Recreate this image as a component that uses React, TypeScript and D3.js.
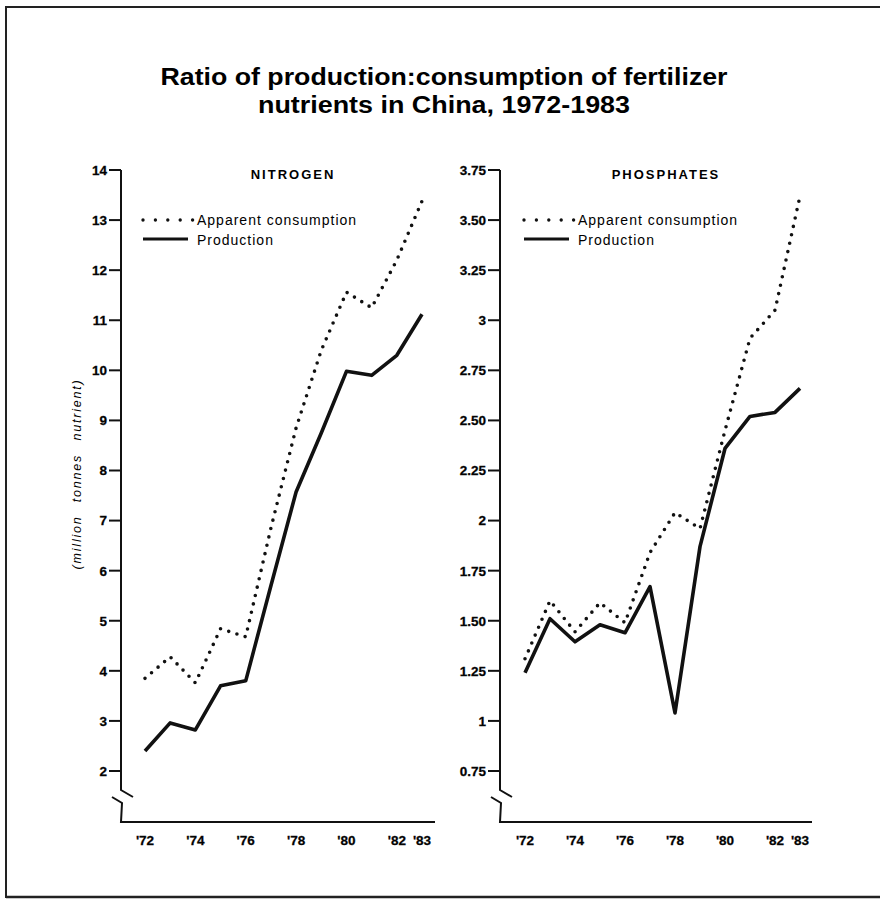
import React from "react";
import * as d3 from "d3";

const years = [1972, 1973, 1974, 1975, 1976, 1977, 1978, 1979, 1980, 1981, 1982, 1983];
const nitrogenConsumption = [3.85, 4.28, 3.76, 4.84, 4.68, 6.85, 8.85, 10.4, 11.56, 11.25, 12.2, 13.38];
const nitrogenProduction = [2.4, 2.96, 2.82, 3.7, 3.8, 5.7, 7.57, 8.75, 9.98, 9.9, 10.3, 11.12];
const phosphateConsumption = [1.31, 1.6, 1.445, 1.59, 1.49, 1.84, 2.04, 1.96, 2.45, 2.91, 3.05, 3.62];
const phosphateProduction = [1.24, 1.51, 1.395, 1.48, 1.44, 1.67, 1.04, 1.87, 2.36, 2.52, 2.54, 2.66];

const xTickYears = [1972, 1974, 1976, 1978, 1980, 1982, 1983];
const xTickLabels = ["'72", "'74", "'76", "'78", "'80", "'82", "'83"];
const nitrogenTicks = [14, 13, 12, 11, 10, 9, 8, 7, 6, 5, 4, 3, 2];
const nitrogenTickLabels = ["14", "13", "12", "11", "10", "9", "8", "7", "6", "5", "4", "3", "2"];
const phosphateTicks = [3.75, 3.5, 3.25, 3, 2.75, 2.5, 2.25, 2, 1.75, 1.5, 1.25, 1, 0.75];
const phosphateTickLabels = ["3.75", "3.50", "3.25", "3", "2.75", "2.50", "2.25", "2", "1.75", "1.50", "1.25", "1", "0.75"];

const FONT = "'Liberation Sans', Arial, Helvetica, sans-serif";

type PanelProps = {
  title: string;
  axisX: number;
  xStart: number;
  xEnd: number;
  axisRight: number;
  yDomain: [number, number];
  ticks: number[];
  tickLabels: string[];
  consumption: number[];
  production: number[];
  titleX: number;
  legendX: number;
};

function Panel(p: PanelProps) {
  const top = 170;
  const bottom = 771;
  const baseY = 822;
  const x = d3.scaleLinear().domain([1972, 1983]).range([p.xStart, p.xEnd]);
  const y = d3.scaleLinear().domain(p.yDomain).range([bottom, top]);
  const line = d3
    .line<number>()
    .x((_, i) => x(years[i]))
    .y((d) => y(d));
  const ax = p.axisX;
  const breakPath = `M${ax},${top} L${ax},${bottom + 19} L${ax + 12},${bottom + 26} M${ax - 9},${bottom + 26} L${ax + 1},${bottom + 32} L${ax},${baseY} L${p.axisRight},${baseY}`;
  return (
    <g>
      <text x={p.titleX} y={179} textAnchor="middle" fontFamily={FONT} fontWeight="bold" fontSize={13} letterSpacing={2}>
        {p.title}
      </text>
      <path d={breakPath} fill="none" stroke="#111" strokeWidth={2} />
      {p.ticks.map((t, i) => (
        <g key={t}>
          <line x1={ax - 12} x2={ax} y1={y(t)} y2={y(t)} stroke="#111" strokeWidth={2} />
          <text x={ax - 14} y={y(t)} dy="0.36em" textAnchor="end" fontFamily={FONT} fontWeight="bold" fontSize={13.5} stroke="#111" strokeWidth={0.3}>
            {p.tickLabels[i]}
          </text>
        </g>
      ))}
      {xTickYears.map((yr, i) => (
        <text key={yr} x={x(yr)} y={845} textAnchor="middle" fontFamily={FONT} fontWeight="bold" fontSize={13.5} stroke="#111" strokeWidth={0.3}>
          {xTickLabels[i]}
        </text>
      ))}
      <path d={line(p.consumption) || ""} fill="none" stroke="#111" strokeWidth={3.6} strokeLinecap="round" strokeDasharray="0 8.6" />
      <path d={line(p.production) || ""} fill="none" stroke="#111" strokeWidth={3.6} strokeLinejoin="round" />
      <line x1={p.legendX} x2={p.legendX + 50} y1={220} y2={220} stroke="#111" strokeWidth={3.4} strokeLinecap="round" strokeDasharray="0 12.4" />
      <text x={p.legendX + 54} y={220} dy="0.35em" fontFamily={FONT} fontSize={14} letterSpacing={1}>
        Apparent consumption
      </text>
      <line x1={p.legendX} x2={p.legendX + 45} y1={239} y2={239} stroke="#111" strokeWidth={3} />
      <text x={p.legendX + 54} y={240} dy="0.35em" fontFamily={FONT} fontSize={14} letterSpacing={1}>
        Production
      </text>
    </g>
  );
}

export default function App() {
  return (
    <div style={{ position: "absolute", left: 0, top: 0 }}>
      <svg width={882} height={901} style={{ display: "block", background: "#fff" }}>
        <rect x={0} y={0} width={882} height={901} fill="#fff" />
        <path d="M6,898 L6,7 L880,7" fill="none" stroke="#222" strokeWidth={2} />
        <line x1={6} x2={880} y1={897} y2={897} stroke="#222" strokeWidth={2.5} />
        <text x={444} y={85} textAnchor="middle" fontFamily={FONT} fontWeight="bold" fontSize={23} textLength={567} lengthAdjust="spacingAndGlyphs">
          Ratio of production:consumption of fertilizer
        </text>
        <text x={444} y={113} textAnchor="middle" fontFamily={FONT} fontWeight="bold" fontSize={23} textLength={372} lengthAdjust="spacingAndGlyphs">
          nutrients in China, 1972-1983
        </text>
        <text
          transform="translate(81,474) rotate(-90)"
          textAnchor="middle"
          fontFamily={FONT}
          fontStyle="italic"
          fontSize={12.5}
          letterSpacing={1.8}
          wordSpacing={8}
        >
          (million tonnes nutrient)
        </text>
        <Panel
          title="NITROGEN"
          axisX={121}
          xStart={145}
          xEnd={422}
          axisRight={435}
          yDomain={[2, 14]}
          ticks={nitrogenTicks}
          tickLabels={nitrogenTickLabels}
          consumption={nitrogenConsumption}
          production={nitrogenProduction}
          titleX={293}
          legendX={143}
        />
        <Panel
          title="PHOSPHATES"
          axisX={500}
          xStart={525}
          xEnd={800}
          axisRight={812}
          yDomain={[0.75, 3.75]}
          ticks={phosphateTicks}
          tickLabels={phosphateTickLabels}
          consumption={phosphateConsumption}
          production={phosphateProduction}
          titleX={666}
          legendX={524}
        />
      </svg>
    </div>
  );
}
